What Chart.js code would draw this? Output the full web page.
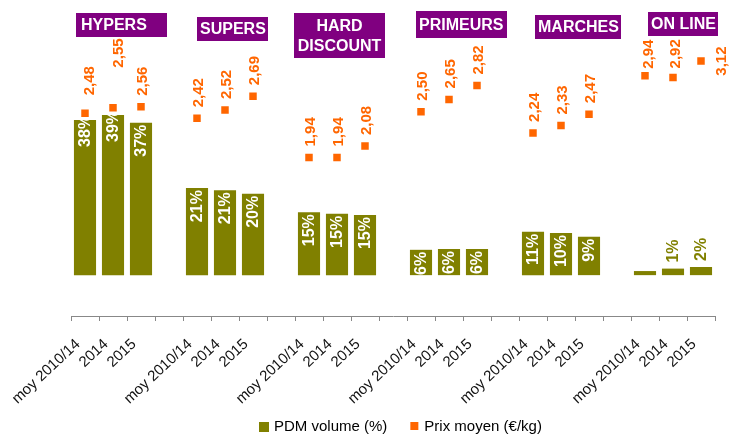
<!DOCTYPE html>
<html>
<head>
<meta charset="utf-8">
<script src="https://cdn.jsdelivr.net/npm/chart.js@4.4.1/dist/chart.umd.min.js"></script>
<style>
  html, body { margin: 0; padding: 0; background: #fff; }
  #wrap { width: 729px; height: 435px; }
</style>
</head>
<body>
<div id="wrap"><canvas id="chart" width="729" height="435"></canvas></div>
<script>
// circuits de distribution (groupes) et périodes (barres)
const circuits = ['HYPERS', 'SUPERS', 'HARD\nDISCOUNT', 'PRIMEURS', 'MARCHES', 'ON LINE'];
const periods = ['moy 2010/14', '2014', '2015'];

// PDM volume (%) par circuit
const pdmVolume = [
  [38.0, 39.2, 37.3],
  [21.3, 20.8, 19.9],
  [15.4, 15.0, 14.7],
  [6.2, 6.4, 6.4],
  [10.6, 10.3, 9.4],
  [1.0, 1.6, 2.0]
];
const pdmLabels = [
  ['38%', '39%', '37%'],
  ['21%', '21%', '20%'],
  ['15%', '15%', '15%'],
  ['6%', '6%', '6%'],
  ['11%', '10%', '9%'],
  ['', '1%', '2%']
];

// Prix moyen (€/kg)
const prixMoyen = [
  [2.48, 2.55, 2.56],
  [2.42, 2.52, 2.69],
  [1.94, 1.94, 2.08],
  [2.50, 2.65, 2.82],
  [2.24, 2.33, 2.47],
  [2.94, 2.92, 3.12]
];

const OLIVE = '#808000';
const ORANGE = '#FF6600';
const PURPLE = '#800080';
const FONT = "'Liberation Sans', Arial, sans-serif";

// flatten groups, one empty category between groups
const labels = [], volData = [], volText = [], prixData = [], groupStart = [];
circuits.forEach((c, g) => {
  if (g > 0) { labels.push(''); volData.push(null); volText.push(''); prixData.push(null); }
  groupStart.push(labels.length);
  periods.forEach((p, i) => {
    labels.push(p);
    volData.push(pdmVolume[g][i]);
    volText.push(pdmLabels[g][i]);
    prixData.push(prixMoyen[g][i]);
  });
});

// hand placed label nudges, like in the original sheet
const volNudge = { 0: -7, 1: -7 };
const prixNudge = { 0: [5, 18], 1: [6, 40], 20: [4, 7], 21: [3, 9] };
const titleBox = [
  { dx: 5, y: 13, w: 91, h: 24 },
  { dx: 14, y: 17, w: 71, h: 24 },
  { dx: -1, y: 13, w: 91, h: 45 },
  { dx: 9, y: 11, w: 91, h: 27 },
  { dx: 16, y: 15, w: 86, h: 24 },
  { dx: 17, y: 12, w: 70, h: 24 }
];

const decorPlugin = {
  id: 'decor',
  afterDatasetsDraw(chart) {
    const ctx = chart.ctx;
    const bars = chart.getDatasetMeta(0).data;
    const pts = chart.getDatasetMeta(1).data;

    // bar labels
    ctx.save();
    ctx.font = 'bold 16px ' + FONT;
    ctx.textBaseline = 'middle';
    bars.forEach((b, i) => {
      const t = volText[i];
      if (!t || volData[i] == null) return;
      ctx.save();
      if (volData[i] >= 4) {
        ctx.beginPath();
        ctx.rect(b.x - 20, b.y, 40, b.base - b.y);
        ctx.clip();
        ctx.translate(b.x + 0.5, b.y + 2 + (volNudge[i] || 0));
        ctx.rotate(-Math.PI / 2);
        ctx.textAlign = 'right';
        ctx.fillStyle = '#fff';
      } else {
        ctx.translate(b.x + 0.5, b.y - 6);
        ctx.rotate(-Math.PI / 2);
        ctx.textAlign = 'left';
        ctx.fillStyle = OLIVE;
      }
      ctx.fillText(t, 0, 0);
      ctx.restore();
    });

    // price labels
    ctx.font = 'bold 15px ' + FONT;
    ctx.fillStyle = ORANGE;
    pts.forEach((p, i) => {
      if (prixData[i] == null) return;
      const t = prixData[i].toFixed(2).replace('.', ',');
      ctx.save();
      if (i === labels.length - 1) {
        ctx.translate(p.x + 21, p.y);
        ctx.rotate(-Math.PI / 2);
        ctx.textAlign = 'center';
      } else {
        const n = prixNudge[i] || [2, 11];
        ctx.translate(p.x + n[0], p.y - n[1]);
        ctx.rotate(-Math.PI / 2);
        ctx.textAlign = 'left';
      }
      ctx.fillText(t, 0, 0);
      ctx.restore();
    });
    ctx.restore();
  },
  afterDraw(chart) {
    const ctx = chart.ctx;
    const x = chart.scales.x;
    const half = (x.getPixelForValue(1) - x.getPixelForValue(0)) / 2;

    // category labels, slanted
    ctx.save();
    ctx.font = '15px ' + FONT;
    ctx.fillStyle = '#111';
    ctx.textAlign = 'right';
    ctx.textBaseline = 'middle';
    labels.forEach((l, i) => {
      if (!l) return;
      ctx.save();
      ctx.translate(x.getPixelForTick(i) - 7, x.top + 26);
      ctx.rotate(-43 * Math.PI / 180);
      ctx.fillText(l, 0, 0);
      ctx.restore();
    });

    // circuit titles
    ctx.font = 'bold 16px ' + FONT;
    ctx.textBaseline = 'middle';
    circuits.forEach((c, g) => {
      const b = titleBox[g];
      const left = x.getPixelForValue(groupStart[g]) - half + b.dx;
      ctx.fillStyle = PURPLE;
      ctx.fillRect(left, b.y, b.w, b.h);
      ctx.fillStyle = '#fff';
      const lines = c.split('\n');
      if (lines.length > 1) {
        ctx.textAlign = 'center';
        lines.forEach((l, k) => ctx.fillText(l, left + b.w / 2, b.y + 14 + k * 20));
      } else {
        ctx.textAlign = 'left';
        ctx.fillText(c, left + (g === 0 ? 5 : 3), b.y + b.h / 2 + 1);
      }
    });

    // legend
    ctx.font = '15px ' + FONT;
    ctx.textAlign = 'left';
    ctx.fillStyle = OLIVE;
    let lx = 259;
    const ly = 427;
    ctx.fillRect(lx, ly - 5, 10, 10);
    ctx.fillStyle = '#000';
    ctx.fillText(chart.data.datasets[0].label, lx + 15, ly);
    lx += 15 + ctx.measureText(chart.data.datasets[0].label).width + 23;
    ctx.fillStyle = ORANGE;
    ctx.fillRect(lx, ly - 5, 8, 8);
    ctx.fillStyle = '#000';
    ctx.fillText(chart.data.datasets[1].label, lx + 14, ly);
    ctx.restore();
  }
};

new Chart(document.getElementById('chart'), {
  data: {
    labels: labels,
    datasets: [
      {
        type: 'bar',
        label: 'PDM volume (%)',
        data: volData,
        backgroundColor: OLIVE,
        yAxisID: 'y',
        categoryPercentage: 0.79,
        barPercentage: 1,
        order: 2
      },
      {
        type: 'line',
        label: 'Prix moyen (€/kg)',
        data: prixData,
        yAxisID: 'y2',
        showLine: false,
        pointStyle: 'rect',
        pointRadius: 5.3,
        pointHoverRadius: 5.3,
        pointBackgroundColor: ORANGE,
        pointBorderWidth: 0,
        backgroundColor: ORANGE,
        borderColor: ORANGE,
        order: 1
      }
    ]
  },
  options: {
    responsive: false,
    animation: false,
    layout: { padding: { left: 71, right: 14, top: 30, bottom: 0 } },
    plugins: {
      legend: { display: false },
      tooltip: { enabled: false }
    },
    scales: {
      x: {
        offset: true,
        grid: {
          offset: true,
          drawOnChartArea: false,
          tickLength: 5,
          color: '#888'
        },
        border: { display: true, color: '#888', width: 1 },
        ticks: { display: false, autoSkip: false },
        afterFit(scale) { scale.height = 119; }
      },
      y: { display: false, min: -10, max: 60 },
      y2: { display: false, min: 0, max: 3.5 }
    }
  },
  plugins: [decorPlugin]
});
</script>
</body>
</html>
